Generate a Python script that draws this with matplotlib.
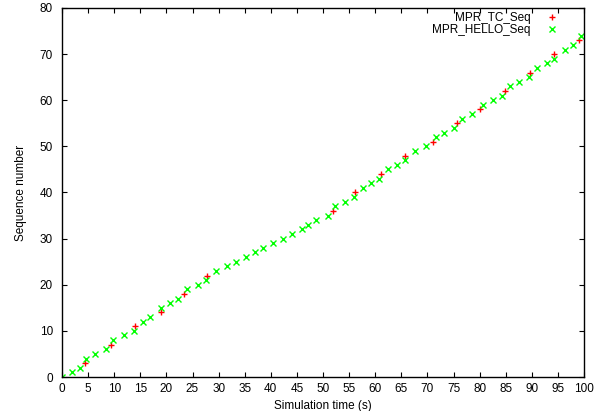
import matplotlib
matplotlib.use('Agg')
import matplotlib.pyplot as plt

# data
tc_time = [4.5, 9.4, 14.0, 18.9, 23.4, 27.8, 51.9, 56.1, 61.2, 65.8, 71.1,
           75.7, 80.1, 84.9, 89.6, 94.3, 99.1]
tc_seq = [3, 7, 11, 14, 18, 22, 36, 40, 44, 48, 51, 55, 58, 62, 66, 70, 73]

hello_time = [0.0, 1.9, 3.5, 4.6, 6.3, 8.4, 9.8, 11.9, 13.8, 15.5,
              16.9, 18.9, 20.6, 22.3, 23.9, 26.0, 27.5, 29.5, 31.7, 33.3,
              35.2, 36.9, 38.6, 40.4, 42.3, 44.0, 45.9, 47.1, 48.6, 50.9,
              52.3, 54.3, 56.0, 57.6, 59.2, 60.8, 62.4, 64.1, 65.8, 67.6,
              69.7, 71.6, 73.2, 75.0, 76.6, 78.5, 80.7, 82.6, 84.2, 85.8,
              87.6, 89.5, 91.0, 92.9, 94.3, 96.4, 97.8, 99.5]
hello_seq = [0, 1, 2, 4, 5, 6, 8, 9, 10, 12,
             13, 15, 16, 17, 19, 20, 21, 23, 24, 25,
             26, 27, 28, 29, 30, 31, 32, 33, 34, 35,
             37, 38, 39, 41, 42, 43, 45, 46, 47, 49,
             50, 52, 53, 54, 56, 57, 59, 60, 61, 63,
             64, 65, 67, 68, 69, 71, 72, 74]

x_ticks = list(range(0, 101, 5))
y_ticks = list(range(0, 81, 10))

plt.rcParams['font.family'] = ['Liberation Sans', 'DejaVu Sans']
fs = 8.5

W, H = 609, 411
fig = plt.figure(figsize=(W / 100, H / 100), dpi=100)
ax = fig.add_axes([62 / W, 1 - 377 / H, (584 - 62) / W, (377 - 8) / H])

ax.plot(tc_time, tc_seq, linestyle='none', marker='+', color='#ff0000',
        markersize=5, markeredgewidth=1.0, label='MPR_TC_Seq')
ax.plot(hello_time, hello_seq, linestyle='none', marker='x', color='#00ff00',
        markersize=4.5, markeredgewidth=1.0, label='MPR_HELLO_Seq')

ax.set_xlim(0, 100)
ax.set_ylim(0, 80)
ax.set_xticks(x_ticks)
ax.set_yticks(y_ticks)
ax.tick_params(direction='in', top=True, right=True, length=3.5, width=0.8,
               labelsize=fs)
ax.tick_params(axis='x', pad=4.5)
ax.tick_params(axis='y', pad=6.5)
for s in ax.spines.values():
    s.set_linewidth(1.0)

ax.set_xlabel('Simulation time (s)', fontsize=fs, labelpad=3.5)
ax.set_ylabel('Sequence number', fontsize=fs, labelpad=9)

ax.legend(loc='upper right', bbox_to_anchor=(0.961, 0.99), frameon=False,
          markerfirst=False, borderpad=0, borderaxespad=0, handletextpad=0.8,
          labelspacing=0.05, fontsize=fs)

fig.savefig('out.png', dpi=100)
